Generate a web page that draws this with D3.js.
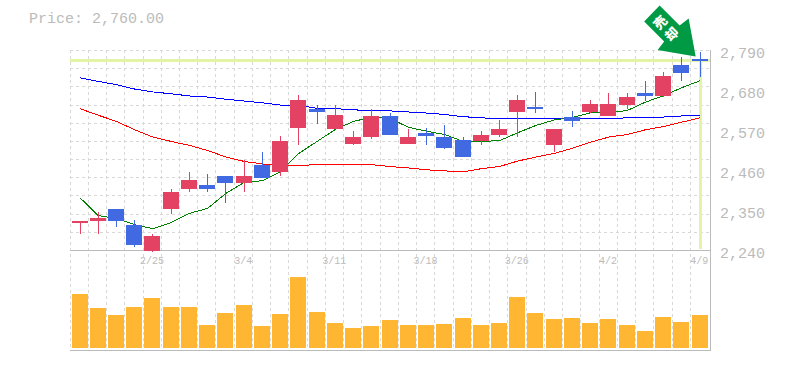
<!DOCTYPE html>
<html>
<head>
<meta charset="utf-8">
<script src="https://cdn.jsdelivr.net/npm/d3@7"></script>
<style>
  html, body { margin: 0; background: #fff; }
  text { font-family: "Liberation Mono", monospace; fill: #bbb; }
</style>
</head>
<body>
<script>
const dates = ["2/19","2/20","2/21","2/22","2/25","2/26","2/27","2/28","3/1","3/4",
  "3/5","3/6","3/7","3/8","3/11","3/12","3/13","3/14","3/15","3/18",
  "3/19","3/20","3/22","3/25","3/26","3/27","3/28","3/29","4/1","4/2",
  "4/3","4/4","4/5","4/8","4/9"];

const open = [2315,2320,2355,2310,2240,2355,2410,2420,2445,2425,
  2475,2455,2578,2630,2575,2534,2551,2611,2534,2562,
  2553,2545,2542,2559,2622,2636,2529,2606,2622,2611,
  2641,2672,2666,2751,2768];
const high = [2320,2345,2355,2325,2285,2410,2455,2450,2445,2490,
  2510,2555,2669,2641,2641,2570,2628,2619,2573,2578,
  2584,2551,2570,2600,2669,2677,2573,2625,2655,2672,
  2672,2705,2732,2771,2787];
const low = [2285,2285,2305,2250,2237,2340,2400,2400,2370,2400,
  2440,2445,2529,2589,2575,2529,2548,2559,2534,2529,
  2518,2498,2531,2553,2553,2617,2512,2581,2617,2611,
  2630,2650,2663,2705,2716];
const close = [2320,2330,2320,2255,2280,2402,2435,2410,2425,2445,
  2440,2540,2655,2622,2614,2553,2611,2559,2551,2556,
  2523,2498,2559,2575,2655,2628,2573,2595,2644,2644,
  2661,2666,2721,2727,2760];

const ma5 = [2385,2336,2328,2311,2300,2317,2342,2356,2397,2427,
  2432,2457,2507,2540,2573,2595,2607,2603,2579,2568,
  2559,2540,2540,2542,2564,2584,2599,2606,2619,2619,
  2625,2648,2666,2688,2707];
const ma25 = [2715,2705,2696,2684,2676,2671,2665,2662,2656,2651,
  2646,2640,2639,2631,2630,2627,2624,2624,2621,2618,
  2614,2608,2605,2602,2602,2602,2602,2602,2602,2602,
  2605,2607,2607,2610,2610];
const ma75 = [2630,2612,2595,2572,2552,2540,2529,2515,2497,2485,
  2478,2474,2474,2476,2476,2476,2476,2471,2467,2462,
  2459,2456,2465,2471,2486,2497,2507,2521,2538,2552,
  2559,2572,2581,2593,2605];

const volume = [540,400,330,410,500,410,410,230,350,430,
  220,340,710,360,250,200,220,280,230,230,
  240,300,230,250,510,350,290,300,250,290,
  230,170,310,260,330];

const priceTicks = [2790,2680,2570,2460,2350,2240];
const dateTicks = ["2/25","3/4","3/11","3/18","3/26","4/2","4/9"];
const lastPrice = 2760;
const arrowLabel = ["売","却"];

const width = 785, height = 370;
const plot = {left: 70, right: 710, top: 50, mid: 250, bottom: 350};

const svg = d3.select("body").append("svg")
  .attr("width", width)
  .attr("height", height)
  .style("display", "block");

const x = d3.scaleBand()
  .domain(dates)
  .range([70.88, 709.28]);
const y = d3.scaleLinear()
  .domain([2240, 2790])
  .range([250.5, 50.5]);
const yVol = d3.scaleLinear()
  .domain([0, 720])
  .range([348, 276]);

const cx = (d) => Math.floor(x(d) + x.bandwidth() / 2) + 0.5;
const gridX = (d) => Math.floor(x(d) - 0.8) + 0.5;
const crisp = (v) => Math.floor(v) + 0.5;

// grid
const grid = svg.append("g")
  .attr("stroke", "#d8d8d8")
  .attr("stroke-dasharray", "3,3")
  .attr("shape-rendering", "crispEdges");
grid.selectAll(".v").data(dates).join("line")
  .attr("x1", gridX).attr("x2", gridX)
  .attr("y1", plot.top).attr("y2", plot.bottom);
grid.selectAll(".h").data(d3.range(2240, 2791, 50)).join("line")
  .attr("x1", plot.left).attr("x2", plot.right)
  .attr("y1", (d) => crisp(y(d))).attr("y2", (d) => crisp(y(d)));

// last price marker
const hl = svg.append("g")
  .attr("stroke", "#e3f4a6")
  .attr("stroke-width", 3)
  .attr("shape-rendering", "crispEdges");
hl.append("line")
  .attr("x1", plot.left).attr("x2", plot.right)
  .attr("y1", crisp(y(lastPrice)) - 1).attr("y2", crisp(y(lastPrice)) - 1);
hl.append("line")
  .attr("x1", cx(dates[34])).attr("x2", cx(dates[34]))
  .attr("y1", y(lastPrice)).attr("y2", plot.mid - 1);

// frame
const frame = svg.append("g")
  .attr("stroke", "#bbb")
  .attr("shape-rendering", "crispEdges");
frame.append("line").attr("x1", plot.left).attr("x2", plot.right + 1).attr("y1", plot.mid + 0.5).attr("y2", plot.mid + 0.5);
frame.append("line").attr("x1", plot.left).attr("x2", plot.right + 1).attr("y1", plot.bottom + 0.5).attr("y2", plot.bottom + 0.5);
frame.append("line").attr("x1", plot.right + 0.5).attr("x2", plot.right + 0.5).attr("y1", plot.top).attr("y2", plot.bottom);

// moving averages
const lineGen = d3.line()
  .x((d, i) => x(dates[i]) + x.bandwidth() / 2)
  .y((d) => y(d));
[[ma25, "#0000ff"], [ma75, "#ff0000"], [ma5, "#008000"]].forEach(([s, color]) => {
  svg.append("path")
    .attr("d", lineGen(s))
    .attr("fill", "none")
    .attr("stroke", color)
    .attr("shape-rendering", "crispEdges");
});

// candles
const colorOf = (i) => close[i] >= open[i] ? "#e34262" : "#4169e1";
const candle = svg.append("g")
  .attr("shape-rendering", "crispEdges")
  .selectAll("g")
  .data(dates)
  .join("g");
candle.append("line")
  .attr("x1", cx).attr("x2", cx)
  .attr("y1", (d, i) => y(high[i]))
  .attr("y2", (d, i) => y(low[i]))
  .attr("stroke", (d, i) => colorOf(i));
candle.append("rect")
  .attr("x", (d) => cx(d) - 8.5)
  .attr("width", 16)
  .attr("y", (d, i) => y(Math.max(open[i], close[i])))
  .attr("height", (d, i) => Math.max(2, Math.abs(y(open[i]) - y(close[i]))))
  .attr("fill", (d, i) => colorOf(i));

// volume
svg.append("g")
  .attr("shape-rendering", "crispEdges")
  .selectAll("rect")
  .data(volume)
  .join("rect")
  .attr("x", (d, i) => cx(dates[i]) - 8.5)
  .attr("width", 16)
  .attr("y", (d) => yVol(d))
  .attr("height", (d) => yVol(0) - yVol(d))
  .attr("fill", "#ffb733");

// axes
const xAxis = d3.axisBottom(x).tickValues(dateTicks).tickSize(0).tickPadding(7);
const xg = svg.append("g")
  .attr("transform", "translate(-1," + plot.mid + ")")
  .call(xAxis);
xg.select(".domain").remove();
xg.selectAll("text")
  .attr("font-family", null)
  .style("font-size", "10px");

const yAxis = d3.axisRight(y)
  .tickValues(priceTicks)
  .tickSize(0)
  .tickPadding(0)
  .tickFormat(d3.format(","));
const yg = svg.append("g")
  .attr("transform", "translate(720,2)")
  .call(yAxis);
yg.select(".domain").remove();
yg.selectAll("text")
  .attr("font-family", null)
  .style("font-size", "15px");

svg.append("text")
  .attr("x", 29)
  .attr("y", 23)
  .style("font-size", "15px")
  .text("Price: " + d3.format(",.2f")(lastPrice));

// arrow, anchored on the last candle's high
const tipX = x(dates[34]) + x.bandwidth() / 2 - 4.5;
const tipY = y(high[34]) + 5;
const arrow = svg.append("g")
  .attr("transform", "translate(" + tipX + "," + tipY + ")");
arrow.append("path")
  .attr("d", "M-36,-51L-16,-31L-7,-38L0,0L-38,-6.5L-31.5,-15L-51.5,-35Z")
  .attr("fill", "#009944");
arrow.selectAll("text")
  .data(arrowLabel)
  .join("text")
  .attr("transform", (d, i) => "translate(" + (-35.5 + i * 11.5) + "," + (-34 + i * 11.5) + ") rotate(-45)")
  .attr("text-anchor", "middle")
  .attr("dy", "0.36em")
  .style("font-family", '"Noto Sans CJK JP"')
  .style("font-size", "13px")
  .style("font-weight", "900")
  .style("fill", "#fff")
  .text((d) => d);
</script>
</body>
</html>
